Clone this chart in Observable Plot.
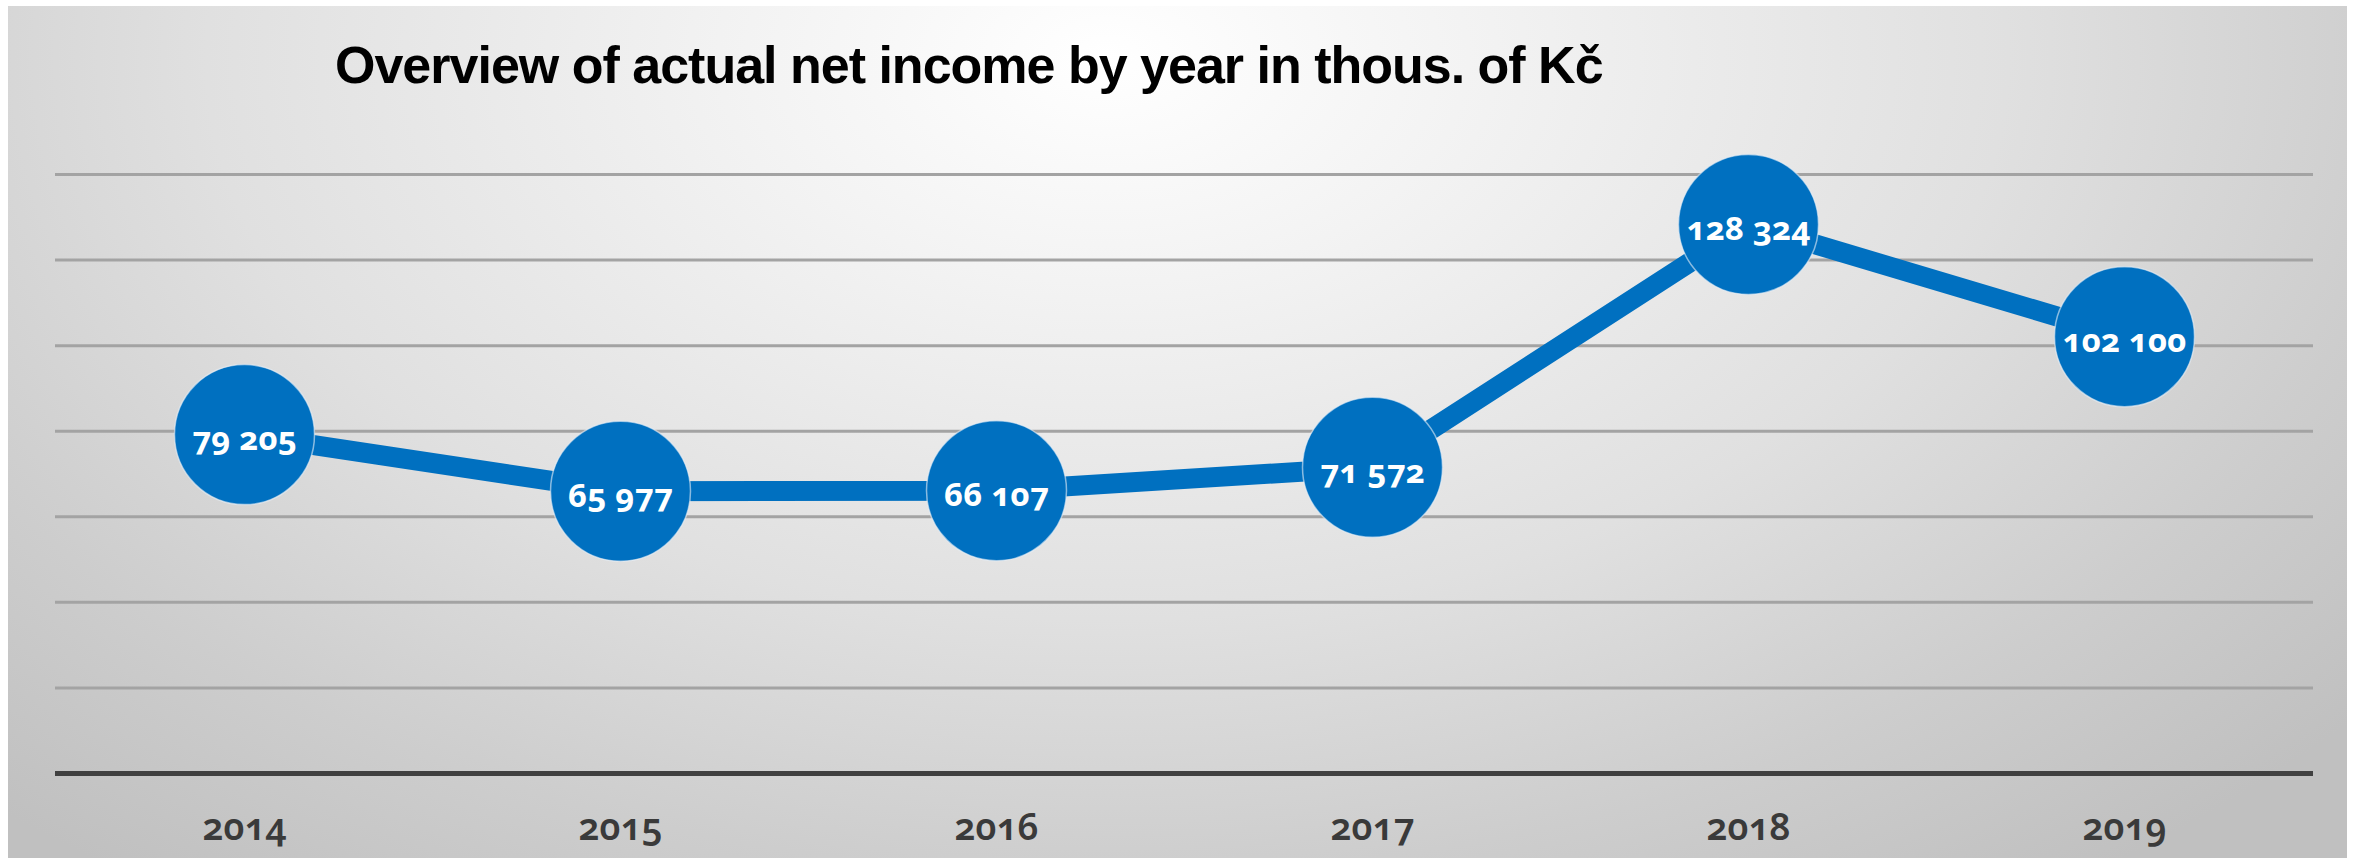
<!DOCTYPE html>
<html>
<head>
<meta charset="utf-8">
<script src="https://cdn.jsdelivr.net/npm/d3@7"></script>
<script src="https://cdn.jsdelivr.net/npm/@observablehq/plot@0.6"></script>
<style>
  html, body { margin: 0; padding: 0; background: #ffffff; }
  #panel {
    position: absolute; left: 8px; top: 6px; width: 2339px; height: 852px;
    background: radial-gradient(ellipse 70% 120% at 47% 6%, #ffffff 0%, #f3f3f3 22%, #e0e0e0 55%, #cdcdcd 80%, #c0c0c0 100%);
    overflow: hidden;
  }
  #title {
    height: 110px; box-sizing: border-box; padding-top: 33px; padding-left: 327px;
    font-family: "Liberation Sans", Arial, sans-serif; font-weight: bold; font-size: 52px;
    line-height: 52px; letter-spacing: -1px; color: #000; white-space: nowrap;
  }
  #chart svg { display: block; background: transparent; }
  #chart svg text { font-family: "Noto Sans", "Open Sans", sans-serif; font-variant-numeric: oldstyle-nums; }
</style>
</head>
<body>
<div id="panel">
  <div id="title">Overview of actual net income by year in thous. of Kč</div>
  <div id="chart"></div>
</div>
<script>
const years = ["2014", "2015", "2016", "2017", "2018", "2019"];
const netIncome = [79205, 65977, 66107, 71572, 128324, 102100];
const gridTicks = [20000, 40000, 60000, 80000, 100000, 120000, 140000];

const data = years.map((year, i) => ({year, value: netIncome[i]}));
const fmt = v => d3.format(",")(v).replace(/,/g, " ");

const blue = "#0070C0";

const chart = Plot.plot({
  width: 2339,
  height: 742,
  marginTop: 58,
  marginBottom: 85,
  marginLeft: 47,
  marginRight: 34,
  style: {background: "transparent", overflow: "visible"},
  x: {type: "band", domain: years, padding: 0, label: null},
  y: {domain: [0, 140000], axis: null},
  marks: [
    Plot.ruleY(gridTicks, {stroke: "#a3a3a3", strokeWidth: 3}),
    Plot.ruleY([0], {stroke: "#404040", strokeWidth: 5}),
    Plot.axisX({tickSize: 0, tickPadding: 40, fontSize: 37, fontWeight: 600, fill: "#3a3a3a", label: null}),
    Plot.line(data, {x: "year", y: "value", stroke: blue, strokeWidth: 20, strokeLinejoin: "round"}),
    Plot.dot(data, {x: "year", y: "value", r: 70, fill: blue, stroke: "#e6eef6", strokeOpacity: 0.6, strokeWidth: 1.5}),
    Plot.text(data, {x: "year", y: "value", text: d => fmt(d.value), fill: "white", fontSize: 33, fontWeight: "bold", dy: 5})
  ]
});
document.getElementById("chart").appendChild(chart);
</script>
</body>
</html>
